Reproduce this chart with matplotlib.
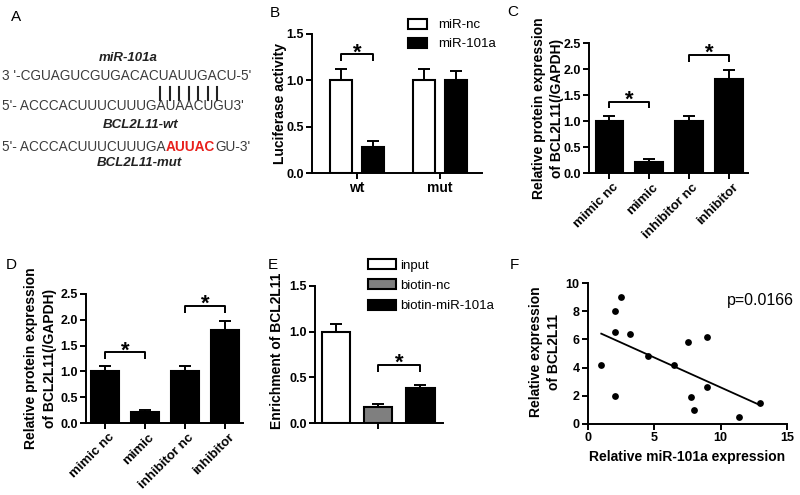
import numpy as np
import matplotlib
matplotlib.use('Agg')
import matplotlib.pyplot as plt
from matplotlib.patches import Patch
import matplotlib.transforms as mtransforms

plt.rcParams['font.family'] = ['Liberation Sans', 'DejaVu Sans']
plt.rcParams['font.weight'] = 'bold'
plt.rcParams['axes.labelweight'] = 'bold'
plt.rcParams['axes.linewidth'] = 1.4

# ---------------- data ----------------
seq_mir = "3 '-CGUAGUCGUGACACUAUUGACU-5'"
seq_wt = "5'- ACCCACUUUCUUUGAUAACUGU3'"
seq_mut_parts = ["5'- ACCCACUUUCUUUGA", "AUUAC", "GU-3'"]
name_mir = "miR-101a"
name_wt = "BCL2L11-wt"
name_mut = "BCL2L11-mut"
n_pair_bars = 7

b_groups = ['wt', 'mut']
b_series = ['miR-nc', 'miR-101a']
b_nc = [1.00, 1.00]
b_nc_err = [0.12, 0.12]
b_mir = [0.28, 1.00]
b_mir_err = [0.07, 0.10]

cd_categories = ['mimic nc', 'mimic', 'inhibitor nc', 'inhibitor']
cd_values = [1.00, 0.21, 1.00, 1.80]
cd_errors = [0.10, 0.05, 0.10, 0.18]

e_series = ['input', 'biotin-nc', 'biotin-miR-101a']
e_values = [1.00, 0.18, 0.38]
e_errors = [0.08, 0.03, 0.04]
e_colors = ['white', '#7f7f7f', 'black']

f_mir = [1.0, 2.0, 2.0, 2.0, 2.5, 3.2, 4.5, 6.5, 7.5, 7.8, 8.0, 9.0, 9.0, 11.4, 13.0]
f_bcl = [4.2, 8.0, 6.5, 2.0, 9.0, 6.4, 4.8, 4.2, 5.8, 1.9, 1.0, 6.2, 2.6, 0.5, 1.5]
f_ptext = 'p=0.0166'

# ---------------- layout helpers ----------------
W, H = 800, 495
fig = plt.figure(figsize=(8, 4.95), dpi=100)


def rect(x0, y0, x1, y1):
    return [x0 / W, 1 - y1 / H, (x1 - x0) / W, (y1 - y0) / H]


def fx(x):
    return x / W


def fy(y):
    return 1 - y / H


def style(ax):
    for s in ('top', 'right'):
        ax.spines[s].set_visible(False)
    for s in ('left', 'bottom'):
        ax.spines[s].set_linewidth(1.4)
    ax.tick_params(direction='out', length=4, width=1.4, labelsize=9, pad=2)


def bracket(ax, x1, x2, y, leg):
    ax.plot([x1, x1, x2, x2], [y - leg, y, y, y - leg], color='black', lw=1.4,
            clip_on=False, solid_capstyle='butt')
    ax.annotate('*', xy=((x1 + x2) / 2, y), xytext=(0, -3), textcoords='offset points',
                ha='center', va='baseline', fontsize=16, fontweight='bold',
                annotation_clip=False)


def up_err(ax, x, vals, errs):
    ax.errorbar(x, vals, yerr=[np.zeros(len(vals)), errs], fmt='none', ecolor='black',
                elinewidth=1.4, capsize=4, capthick=1.4, zorder=1)


# ---------------- panel letters ----------------
for letter, (x, y) in zip('ABCDEF', [(16, 17), (275, 13), (513, 12), (11, 265), (273, 265), (514, 265)]):
    fig.text(fx(x), fy(y), letter, ha='center', va='center', fontsize=11, fontweight='normal')

# ---------------- panel A ----------------
seq_color = '#3c3c3c'
fig.text(fx(128), fy(58), name_mir, ha='center', va='center', fontsize=9.5,
         fontweight='bold', style='italic', color='#222222')
fig.text(fx(2), fy(76), seq_mir, ha='left', va='center', fontsize=9.8,
         fontweight='normal', color=seq_color)
for xb in np.linspace(160, 217, n_pair_bars):
    fig.add_artist(plt.Line2D([fx(xb), fx(xb)], [fy(87), fy(100)], color='#222222', lw=1.5))
fig.text(fx(2), fy(106), seq_wt, ha='left', va='center', fontsize=9.8,
         fontweight='normal', color=seq_color)
fig.text(fx(103), fy(125), name_wt, ha='left', va='center', fontsize=9.5,
         fontweight='bold', style='italic', color='#222222')
renderer = fig.canvas.get_renderer()
xcur = 2
for i, part in enumerate(seq_mut_parts):
    red = (i == 1)
    t = fig.text(fx(xcur), fy(147), part, ha='left', va='center', fontsize=9.8,
                 fontweight='bold' if red else 'normal',
                 color='#e8201c' if red else seq_color)
    bb = t.get_window_extent(renderer=renderer)
    xcur = bb.x1
fig.text(fx(97), fy(163), name_mut, ha='left', va='center', fontsize=9.5,
         fontweight='bold', style='italic', color='#222222')

# ---------------- panel B ----------------
axB = fig.add_axes(rect(312, 34, 482, 173))
style(axB)
xg = np.arange(len(b_groups))
off, bw = 0.187, 0.265
hb1 = axB.bar(xg - off, b_nc, bw, color='white', edgecolor='black', lw=1.5, zorder=2, label=b_series[0])
hb2 = axB.bar(xg + off, b_mir, bw, color='black', edgecolor='black', lw=1.5, zorder=2, label=b_series[1])
up_err(axB, xg - off, b_nc, b_nc_err)
up_err(axB, xg + off, b_mir, b_mir_err)
axB.set_xlim(-0.542, 1.506)
axB.set_ylim(0, 1.5)
axB.set_yticks([0, 0.5, 1.0, 1.5])
axB.set_yticklabels(['0.0', '0.5', '1.0', '1.5'])
axB.set_xticks(xg)
axB.set_xticklabels(b_groups, fontsize=10)
axB.set_ylabel('Luciferase activity', fontsize=10)
axB.yaxis.set_label_coords(-0.188, 0.5)
axB.yaxis.label.set_va('center')
bracket(axB, xg[0] - off, xg[0] + off, 1.28, 0.07)
axB.legend(handles=[hb1, hb2], labels=b_series, loc='upper left',
           bbox_to_anchor=(fx(408), fy(19)), bbox_transform=fig.transFigure,
           frameon=False, borderpad=0, borderaxespad=0, handlelength=1.45,
           handleheight=0.75, handletextpad=0.8, labelspacing=0.5,
           prop={'size': 9.5, 'weight': 'normal'})


# ---------------- panels C & D ----------------
def cd_panel(ax, xlim):
    style(ax)
    x = np.arange(len(cd_categories))
    ax.bar(x, cd_values, 0.7, color='black', edgecolor='black', lw=1.5, zorder=2)
    up_err(ax, x, cd_values, cd_errors)
    ax.set_xlim(*xlim)
    ax.set_ylim(0, 2.5)
    ax.set_yticks(np.arange(0, 2.51, 0.5))
    ax.set_yticklabels(['0.0', '0.5', '1.0', '1.5', '2.0', '2.5'])
    ax.set_xticks(x)
    ax.set_xticklabels(cd_categories, rotation=45, ha='right', va='top',
                       rotation_mode='anchor', fontsize=9.5)
    shift = mtransforms.ScaledTranslation(3 / 100, 0, fig.dpi_scale_trans)
    for lab in ax.get_xticklabels():
        lab.set_transform(lab.get_transform() + shift)
    ax.set_ylabel('Relative protein expression\nof BCL2L11(/GAPDH)', fontsize=10, linespacing=1.4)
    ax.yaxis.label.set_va('center')
    top = np.array(cd_values) + np.array(cd_errors)
    bracket(ax, 0, 1, top[:2].max() + 0.27, 0.12)
    bracket(ax, 2, 3, top[2:].max() + 0.29, 0.13)


axC = fig.add_axes(rect(589, 43, 748, 173))
cd_panel(axC, (-0.515, 3.48))
axC.yaxis.set_label_coords(-0.258, 0.5)

axD = fig.add_axes(rect(86, 294, 243, 423))
cd_panel(axD, (-0.475, 3.45))
axD.yaxis.set_label_coords(-0.29, 0.5)

# ---------------- panel E ----------------
axE = fig.add_axes(rect(315, 286, 443, 423))
style(axE)
xe = np.arange(len(e_series))
handles = []
for i in range(len(e_series)):
    h = axE.bar(xe[i], e_values[i], 0.675, color=e_colors[i], edgecolor='black', lw=1.5,
                zorder=2, label=e_series[i])
    handles.append(h)
up_err(axE, xe, e_values, e_errors)
axE.set_xlim(-0.498, 2.535)
axE.set_ylim(0, 1.5)
axE.set_yticks([0, 0.5, 1.0, 1.5])
axE.set_yticklabels(['0.0', '0.5', '1.0', '1.5'])
axE.set_xticks([1])
axE.set_xticklabels([''])
axE.set_ylabel('Enrichment of BCL2L11', fontsize=10)
axE.yaxis.set_label_coords(-0.3, 0.525)
axE.yaxis.label.set_va('center')
etop = np.array(e_values) + np.array(e_errors)
bracket(axE, 1, 2, etop[1:].max() + 0.22, 0.08)
axE.legend(handles=handles, labels=e_series, loc='upper left',
           bbox_to_anchor=(fx(368), fy(259)), bbox_transform=fig.transFigure,
           frameon=False, borderpad=0, borderaxespad=0, handlelength=2.1,
           handleheight=0.8, handletextpad=0.3, labelspacing=0.58,
           prop={'size': 9.5, 'weight': 'normal'})

# ---------------- panel F ----------------
axF = fig.add_axes(rect(588, 283, 787, 424))
style(axF)
axF.scatter(f_mir, f_bcl, s=24, color='black', zorder=3, clip_on=False, linewidths=0)
coef = np.polyfit(f_mir, f_bcl, 1)
xl = np.array([min(f_mir), max(f_mir)])
axF.plot(xl, np.polyval(coef, xl), color='black', lw=1.3)
axF.set_xlim(0, 15)
axF.set_ylim(0, 10)
axF.set_xticks([0, 5, 10, 15])
axF.set_yticks([0, 2, 4, 6, 8, 10])
axF.set_xlabel('Relative miR-101a expression', fontsize=10)
axF.xaxis.set_label_coords(0.5, -0.234)
axF.xaxis.label.set_va('center')
axF.set_ylabel('Relative expression\nof BCL2L11', fontsize=10, linespacing=1.4)
axF.yaxis.set_label_coords(-0.215, 0.51)
axF.yaxis.label.set_va('center')
axF.text(fx(760), fy(300), f_ptext, transform=fig.transFigure, ha='center', va='center',
         fontsize=11.5, fontweight='normal')

fig.savefig('out.png', dpi=100)
